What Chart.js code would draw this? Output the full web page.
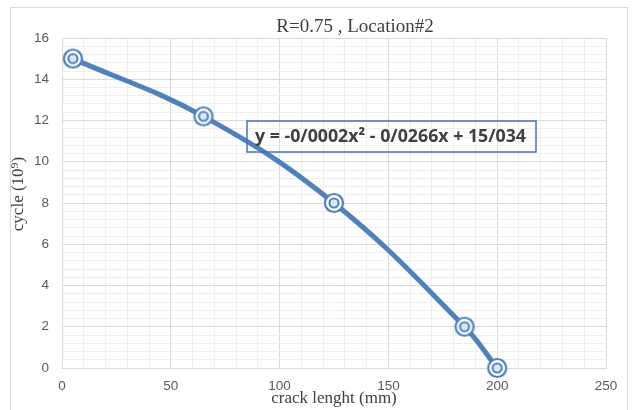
<!DOCTYPE html>
<html>
<head>
<meta charset="utf-8">
<script src="https://cdn.jsdelivr.net/npm/chart.js@4/dist/chart.umd.min.js"></script>
<style>
  html, body { margin: 0; padding: 0; background: #fff; }
  #wrap { width: 636px; height: 410px; }
</style>
</head>
<body>
<div id="wrap"><canvas id="chart" width="636" height="410"></canvas></div>
<script>
// data
var crackLength = [5, 65, 125, 185, 200];
var cycles = [15, 12.2, 8, 2, 0];
var xMajor = 50, xMinor = 10;
var yMajor = 2, yMinor = 0.4;
var chartTitle = "R=0.75 , Location#2";
var xTitle = "crack lenght (mm)";
var yTitle = "cycle (10\u2079)";
var equation = "y = -0/0002x\u00b2 - 0/0266x + 15/034";

var blue = "#4f81bd";

function makeMarker() {
    var c = document.createElement("canvas");
    c.width = 24; c.height = 24;
    var g = c.getContext("2d");
    g.strokeStyle = blue;
    g.fillStyle = "#fff";
    g.lineWidth = 2.2;
    g.beginPath(); g.arc(12, 12, 9, 0, Math.PI * 2); g.fill(); g.stroke();
    g.beginPath(); g.arc(12, 12, 4.5, 0, Math.PI * 2); g.stroke();
    g.fillStyle = "rgba(79,129,189,0.2)";
    g.beginPath(); g.arc(12, 12, 3, 0, Math.PI * 2); g.fill();
    return c;
}

function isMajor(v, step) {
    return Math.abs(v / step - Math.round(v / step)) < 1e-6;
}

var decor = {
    id: "decor",
    beforeDraw: function(chart) {
        var ctx = chart.ctx;
        ctx.save();
        ctx.fillStyle = "#fff";
        ctx.fillRect(0, 0, chart.width, chart.height);
        ctx.strokeStyle = "#d9d9d9";
        ctx.lineWidth = 1;
        ctx.strokeRect(10.5, 7.5, 617, 420);
        ctx.restore();
    },
    afterDatasetsDraw: function(chart) {
        var ctx = chart.ctx;
        var a = chart.chartArea;
        ctx.save();
        // title
        ctx.fillStyle = "#404040";
        ctx.font = "19px 'Liberation Serif'";
        ctx.textAlign = "center";
        ctx.textBaseline = "middle";
        ctx.fillText(chartTitle, 355, 27);
        // x axis title
        ctx.font = "17px 'Liberation Serif'";
        ctx.fillText(xTitle, (a.left + a.right) / 2, 399);
        // y axis title
        ctx.translate(19, 194);
        ctx.rotate(-Math.PI / 2);
        ctx.fillText(yTitle, 0, 0);
        ctx.setTransform(1, 0, 0, 1, 0, 0);
        // trendline equation box
        ctx.strokeStyle = "#4472c4";
        ctx.lineWidth = 1.5;
        ctx.strokeRect(247, 121, 289, 31);
        ctx.fillStyle = "#404040";
        ctx.font = "bold 18px 'Open Sans'";
        ctx.textAlign = "left";
        ctx.fillText(equation, 255, 137, 271);
        ctx.restore();
    }
};

var ctx = document.getElementById("chart").getContext("2d");
var chart = new Chart(ctx, {
    type: "scatter",
    data: {
        datasets: [{
            data: crackLength.map(function(x, i) { return { x: x, y: cycles[i] }; }),
            showLine: true,
            borderColor: blue,
            borderWidth: 5,
            tension: 0.4,
            pointStyle: makeMarker(),
            pointRadius: 10,
            clip: false
        }]
    },
    options: {
        responsive: false,
        animation: false,
        events: [],
        layout: { padding: { top: 38, right: 30, left: 0, bottom: 0 } },
        plugins: {
            legend: { display: false },
            tooltip: { enabled: false },
            title: { display: false }
        },
        scales: {
            x: {
                type: "linear",
                min: 0,
                max: 250,
                afterFit: function(s) { s.height = 42; },
                border: { color: "#d9d9d9" },
                grid: {
                    drawTicks: false,
                    color: function(c) { return isMajor(c.tick.value, xMajor) ? "#d9d9d9" : "#eeeeee"; }
                },
                ticks: {
                    stepSize: xMinor,
                    autoSkip: false,
                    maxRotation: 0,
                    padding: 10,
                    color: "#595959",
                    font: { family: "'Liberation Sans'", size: 13.5 },
                    callback: function(v) { return isMajor(v, xMajor) ? v : ""; }
                }
            },
            y: {
                min: 0,
                max: 16,
                afterFit: function(s) { s.width = 62; },
                border: { color: "#d9d9d9" },
                grid: {
                    drawTicks: false,
                    color: function(c) { return isMajor(c.tick.value, yMajor) ? "#d9d9d9" : "#eeeeee"; }
                },
                ticks: {
                    stepSize: yMinor,
                    autoSkip: false,
                    padding: 13,
                    color: "#595959",
                    font: { family: "'Liberation Sans'", size: 13.5 },
                    callback: function(v) { return isMajor(v, yMajor) ? Math.round(v) : ""; }
                }
            }
        }
    },
    plugins: [decor]
});
</script>
</body>
</html>
